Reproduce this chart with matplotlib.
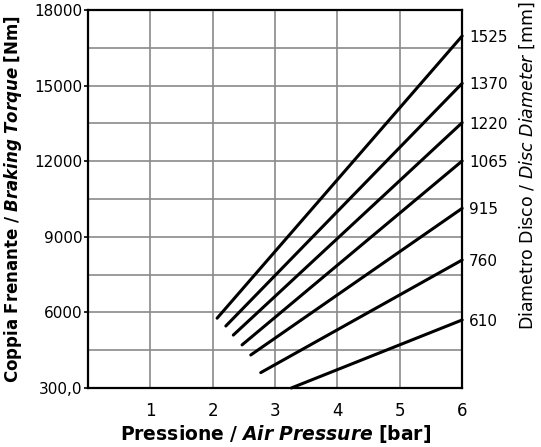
import matplotlib
matplotlib.use("Agg")
import matplotlib.pyplot as plt
from matplotlib.ticker import MultipleLocator, FixedLocator

plt.rcParams['font.family'] = ['DejaVu Sans']
plt.rcParams['mathtext.fontset'] = 'custom'
plt.rcParams['mathtext.rm'] = 'DejaVu Sans'
plt.rcParams['mathtext.bf'] = 'DejaVu Sans:bold'
plt.rcParams['mathtext.it'] = 'DejaVu Sans:italic'
plt.rcParams['mathtext.bfit'] = 'DejaVu Sans:italic:bold'

# diameters [mm] and line endpoints (pressure [bar], torque [Nm])
diameters = ['1525', '1370', '1220', '1065', '915', '760', '610']
p_start = [2.07, 2.21, 2.33, 2.47, 2.61, 2.77, 3.26]
t_start = [5770, 5460, 5100, 4710, 4310, 3610, 3000]
p_end = [6, 6, 6, 6, 6, 6, 6]
t_end = [16970, 15090, 13530, 12010, 10130, 8080, 5700]

x_ticks = [1, 2, 3, 4, 5, 6]
y_ticks = [3000, 6000, 9000, 12000, 15000, 18000]
y_tick_labels = ['300,0', '6000', '9000', '12000', '15000', '18000']

fig = plt.figure(figsize=(5.41, 4.47), dpi=100)
ax = fig.add_axes([0.1627, 0.132, 0.8543 - 0.1627, 0.9776 - 0.132])

# curves
for p0, t0, p1, t1 in zip(p_start, t_start, p_end, t_end):
    ax.plot([p0, p1], [t0, t1], color='black', lw=2.2,
            solid_capstyle='round', zorder=3, clip_on=False)

ax.set_xlim(0, 6)
ax.set_ylim(3000, 18000)

# grid
ax.xaxis.set_major_locator(FixedLocator(x_ticks))
ax.yaxis.set_major_locator(FixedLocator(y_ticks))
ax.yaxis.set_minor_locator(MultipleLocator(1500))
ax.grid(True, which='both', color='#8a8a8a', lw=1.2, zorder=1)
ax.set_yticklabels(y_tick_labels)

ax.tick_params(axis='x', length=0, labelsize=12, pad=10)
ax.tick_params(axis='y', which='major', length=3, width=1.2,
               labelsize=11, pad=1)
ax.tick_params(axis='y', which='minor', length=0)

for s in ax.spines.values():
    s.set_linewidth(1.6)

ax.set_xlabel(r'$\mathbf{Pressione\ /\ }\mathbfit{Air\ Pressure}\mathbf{\ [bar]}$',
              fontsize=13.5, labelpad=2)
ax.set_ylabel(r'$\mathbf{Coppia\ Frenante\ /\ }\mathbfit{Braking\ Torque}\mathbf{\ [Nm]}$',
              fontsize=12)
ax.yaxis.set_label_coords(-0.17, 0.5)

# right side: diameter labels at the line ends
ax2 = ax.twinx()
ax2.set_ylim(ax.get_ylim())
ax2.set_yticks(t_end)
ax2.set_yticklabels(diameters)
ax2.tick_params(axis='y', length=0, labelsize=11, pad=5)
for s in ax2.spines.values():
    s.set_visible(False)
ax2.set_ylabel(r'$\mathrm{Diametro\ Disco\ /\ }\mathit{Disc\ Diameter}\mathrm{\ [mm]}$',
               fontsize=12.5)
ax2.yaxis.set_label_coords(1.148, 0.587)

fig.savefig('out.png', dpi=100)
